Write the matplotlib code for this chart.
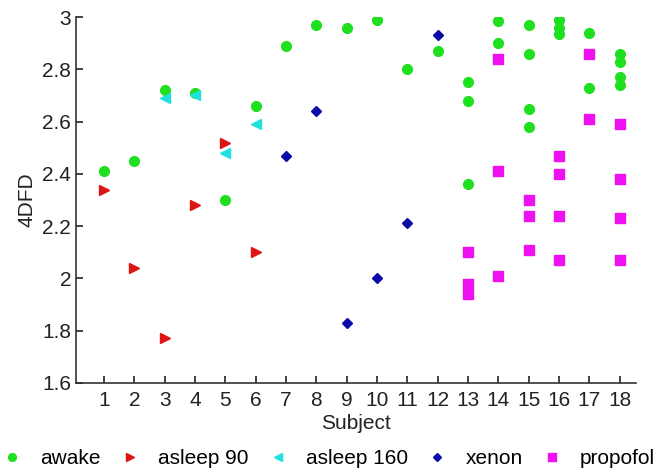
import matplotlib
matplotlib.use('Agg')
import matplotlib.pyplot as plt
import numpy as np

plt.rcParams['font.family'] = ['Liberation Sans', 'DejaVu Sans']
fontsize = 15

# values
awake_x = [1, 2, 3, 4, 5, 6, 7, 8, 9, 10, 11, 12,
           13, 13, 13, 14, 14, 15, 15, 15, 15,
           16, 16, 16, 17, 17, 18, 18, 18, 18]
awake_y = [2.41, 2.45, 2.72, 2.71, 2.30, 2.66, 2.89, 2.97, 2.96, 2.99, 2.80, 2.87,
           2.75, 2.68, 2.36, 2.985, 2.90, 2.97, 2.86, 2.65, 2.58,
           2.99, 2.96, 2.935, 2.94, 2.73, 2.86, 2.83, 2.77, 2.74]

asleep90_x = [1, 2, 3, 4, 5, 6]
asleep90_y = [2.34, 2.04, 1.77, 2.28, 2.52, 2.10]

asleep160_x = [3, 4, 5, 6]
asleep160_y = [2.69, 2.70, 2.48, 2.59]

xenon_x = [7, 8, 9, 10, 11, 12]
xenon_y = [2.47, 2.64, 1.83, 2.00, 2.21, 2.93]

propofol_x = [13, 13, 13, 14, 14, 14, 15, 15, 15,
              16, 16, 16, 16, 17, 17, 18, 18, 18, 18]
propofol_y = [2.10, 1.98, 1.94, 2.84, 2.41, 2.01, 2.30, 2.24, 2.11,
              2.47, 2.40, 2.24, 2.07, 2.86, 2.61, 2.59, 2.38, 2.23, 2.07]

subjects = list(range(1, 19))
yticks = [1.6, 1.8, 2.0, 2.2, 2.4, 2.6, 2.8, 3.0]
ytick_labels = ['1.6', '1.8', '2', '2.2', '2.4', '2.6', '2.8', '3']

fig = plt.figure(figsize=(6.61, 4.75), dpi=100)
ax = fig.add_axes([0.115, 0.194, 0.847, 0.770])

ax.plot(awake_x, awake_y, 'o', color='#1ee01e', markersize=7, label='awake')
ax.plot(asleep90_x, asleep90_y, '>', color='#dd1515', markersize=7.5, label='asleep 90')
ax.plot(asleep160_x, asleep160_y, '<', color='#22e0e0', markersize=7.5, label='asleep 160')
ax.plot(xenon_x, xenon_y, 'D', color='#0a0aa8', markersize=5, label='xenon')
ax.plot(propofol_x, propofol_y, 's', color='#ee10ee', markersize=7, label='propofol')

ax.set_xlim(0.08, 18.53)
ax.set_ylim(1.6, 3.0)
ax.set_xticks(subjects)
ax.set_yticks(yticks)
ax.set_yticklabels(ytick_labels)
ax.tick_params(direction='in', length=5, width=1.2, labelsize=fontsize, colors='#222222')
ax.tick_params(axis='x', pad=6)
ax.spines['top'].set_visible(False)
ax.spines['right'].set_visible(False)
for s in ['left', 'bottom']:
    ax.spines[s].set_linewidth(1.2)
    ax.spines[s].set_color('#333333')

ax.set_xlabel('Subject', fontsize=fontsize, labelpad=3, color='#222222')
ax.set_ylabel('4DFD', fontsize=fontsize, labelpad=4, color='#222222')

fig.legend(loc='center', bbox_to_anchor=(0.497, 0.035), ncol=5, frameon=False,
           fontsize=fontsize, markerscale=0.8, handlelength=1.0, handletextpad=0.85,
           columnspacing=0.9, numpoints=1)

plt.savefig('out.png', dpi=100)
